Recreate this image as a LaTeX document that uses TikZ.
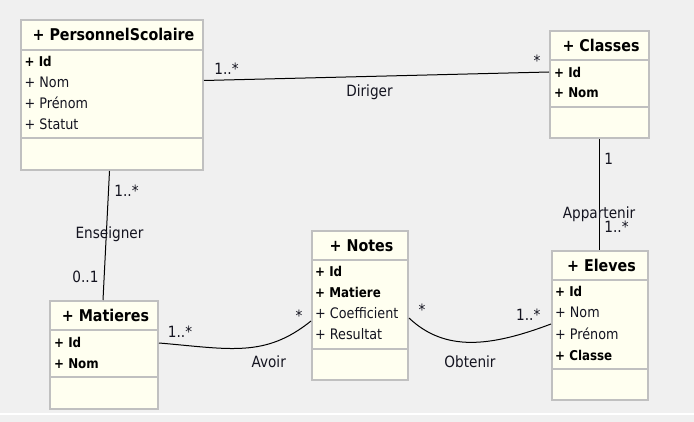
\documentclass[tikz,border=0pt]{standalone}
\usepackage{fontspec}
\setmainfont{DejaVu Sans}[FakeStretch=0.88]
\usetikzlibrary{calc}
\definecolor{bg}{HTML}{F0F0F0}
\definecolor{boxfill}{HTML}{FFFFF0}
\definecolor{boxline}{HTML}{C0C0C0}
\definecolor{txt}{HTML}{141420}
\begin{document}
\begin{tikzpicture}[x=1pt,y=-1pt,
  umlbox/.style={draw=boxline, fill=boxfill, line width=2pt, rectangle, inner sep=0pt, anchor=north west},
  sepline/.style={draw=boxline, line width=2pt},
  hdr/.style={anchor=base, font=\fontsize{16.2}{18}\selectfont\bfseries, inner sep=0pt, text=black},
  attr/.style={anchor=base west, font=\fontsize{14.5}{16}\selectfont, inner sep=0pt, text=txt},
  battr/.style={anchor=base west, font=\fontsize{13.5}{16}\selectfont\bfseries, inner sep=0pt, text=black},
  lbl/.style={anchor=base, font=\fontsize{15.5}{17}\selectfont, inner sep=0pt, text=txt},
  conn/.style={draw=black, line width=1pt}]
\useasboundingbox (0,0) rectangle (694,422);
\fill[bg] (0,0) rectangle (694,422);
\draw[white, line width=1.5pt] (0,414) -- (694,414);

% boxes
\node[umlbox, minimum width=182pt, minimum height=150pt] (ps) at (20,19) {};
\node[umlbox, minimum width=99pt, minimum height=107pt] (cl) at (549,30) {};
\node[umlbox, minimum width=108pt, minimum height=108pt] (ma) at (49,300) {};
\node[umlbox, minimum width=96pt, minimum height=149pt] (no) at (311,230) {};
\node[umlbox, minimum width=96pt, minimum height=149pt] (el) at (551,250) {};

% separators
\foreach \b/\a/\c in {ps/31/119, cl/30/77, ma/30/77, no/30/119, el/30/119}{
  \draw[sepline] ([yshift=-\a pt]\b.north west) -- ([yshift=-\a pt]\b.north east);
  \draw[sepline] ([yshift=-\c pt]\b.north west) -- ([yshift=-\c pt]\b.north east);
}

% headers
\node[hdr] (psH) at ($(ps.north)+(1.5,22)$) {+ PersonnelScolaire};
\node[hdr] (clH) at ($(cl.north)+(1.5,22)$) {+ Classes};
\node[hdr] (maH) at ($(ma.north)+(1.5,22)$) {+ Matieres};
\node[hdr] (noH) at ($(no.north)+(1.5,22)$) {+ Notes};
\node[hdr] (elH) at ($(el.north)+(1.5,22)$) {+ Eleves};

% attributes
\node[battr] (ps1) at (24.5,66.7) {+ Id};
\node[attr]  (ps2) at (24.5,87.8) {+ Nom};
\node[attr]  (ps3) at (24.5,108.9) {+ Prénom};
\node[attr]  (ps4) at (24.5,130) {+ Statut};

\node[battr] (cl1) at (554,77.3) {+ Id};
\node[battr] (cl2) at (554,98) {+ Nom};

\node[battr] (ma1) at (54,347) {+ Id};
\node[battr] (ma2) at (54,368) {+ Nom};

\node[battr] (no1) at (315,277) {+ Id};
\node[battr] (no2) at (315,298) {+ Matiere};
\node[attr]  (no3) at (315,319) {+ Coefficient};
\node[attr]  (no4) at (315,340) {+ Resultat};

\node[battr] (el1) at (555,297) {+ Id};
\node[attr]  (el2) at (555,318) {+ Nom};
\node[attr]  (el3) at (555,339) {+ Prénom};
\node[battr] (el4) at (555,360) {+ Classe};

% connectors
\draw[conn] (ps.east |- 0,80.5) -- (cl.west |- 0,72);
\draw[conn] ($(ps.south)+(-2.5,0)$) -- ($(ma.north)+(-1,0)$);
\draw[conn] (cl.south) -- (cl.south |- el.north);
\draw[conn] (ma.east |- 0,343) .. controls (230,349) and (265,358) .. (no.west |- 0,321);
\draw[conn] (no.east |- 0,318) .. controls (445,352) and (490,347) .. (el.west |- 0,324);

% labels
\node[lbl] (d1) at (226.5,75) {1..*};
\node[lbl] (d2) at (537,67) {*};
\node[lbl] (d3) at (369.5,96.5) {Diriger};
\node[lbl] (e1) at (126.5,197) {1..*};
\node[lbl] (e2) at (109.5,238.3) {Enseigner};
\node[lbl] (e3) at (85.5,282.7) {0..1};
\node[lbl] (a1) at (608.7,165) {1};
\node[lbl] (a2) at (599,218.3) {Appartenir};
\node[lbl] (a3) at (616.5,232.7) {1..*};
\node[lbl] (v1) at (180,337.3) {1..*};
\node[lbl] (v2) at (299,322) {*};
\node[lbl] (v3) at (268.7,367.7) {Avoir};
\node[lbl] (o1) at (422,316) {*};
\node[lbl] (o2) at (528.3,321) {1..*};
\node[lbl] (o3) at (470,367.7) {Obtenir};
\end{tikzpicture}
\end{document}
